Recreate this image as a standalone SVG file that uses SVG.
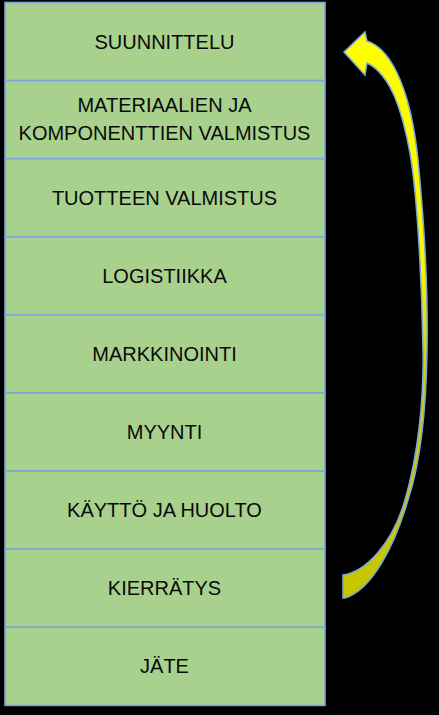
<svg xmlns="http://www.w3.org/2000/svg" width="439" height="715" viewBox="0 0 439 715">
  <style>
    .box { fill: #a9d18e; stroke: #7fa6d8; stroke-width: 1.6; }
    .lbl { font-family: "Liberation Sans", Arial, sans-serif; font-size: 20px; fill: #0a0a0a; text-anchor: middle; }
  </style>
  <defs>
    <linearGradient id="arrowFill" gradientUnits="userSpaceOnUse" x1="0" y1="30" x2="0" y2="600">
      <stop offset="0" stop-color="#ffff00"/>
      <stop offset="0.42" stop-color="#f6f600"/>
      <stop offset="0.6" stop-color="#d2d200"/>
      <stop offset="1" stop-color="#c6c600"/>
    </linearGradient>
  </defs>
  <rect x="0" y="0" width="439" height="715" fill="#000"/>

  <g id="n1"><rect class="box" x="5" y="2.5" width="320" height="78.1"/><text class="lbl" x="164.5" y="48.6">SUUNNITTELU</text></g>
  <g id="n2"><rect class="box" x="5" y="80.6" width="320" height="78.1"/><text class="lbl" x="164.5" y="111.5">MATERIAALIEN JA</text><text class="lbl" x="164.5" y="139.7">KOMPONENTTIEN VALMISTUS</text></g>
  <g id="n3"><rect class="box" x="5" y="158.7" width="320" height="78.1"/><text class="lbl" x="164.5" y="204.8">TUOTTEEN VALMISTUS</text></g>
  <g id="n4"><rect class="box" x="5" y="236.8" width="320" height="78.1"/><text class="lbl" x="164.5" y="282.9">LOGISTIIKKA</text></g>
  <g id="n5"><rect class="box" x="5" y="314.9" width="320" height="78.1"/><text class="lbl" x="164.5" y="361">MARKKINOINTI</text></g>
  <g id="n6"><rect class="box" x="5" y="393" width="320" height="78.1"/><text class="lbl" x="164.5" y="439.1">MYYNTI</text></g>
  <g id="n7"><rect class="box" x="5" y="471.1" width="320" height="78.1"/><text class="lbl" x="164.5" y="517.2">KÄYTTÖ JA HUOLTO</text></g>
  <g id="n8"><rect class="box" x="5" y="549.2" width="320" height="78.1"/><text class="lbl" x="164.5" y="595.3">KIERRÄTYS</text></g>
  <g id="n9"><rect class="box" x="5" y="627.3" width="320" height="78.1"/><text class="lbl" x="164.5" y="673.4">JÄTE</text></g>

  <g id="connectors">
    <path d="M343,575 C365,572 392,545 405,500 C418,455 424,400 423,350 C422,290 418,200 410,153 C403,115 392,75 367,63 L365,75 L344,52 L365,32 L367,41 C395,50 412,100 418,160 C424,220 428,290 427,350 C426,420 418,470 408,500 C395,545 372,590 345,598 L343,598 Z" fill="url(#arrowFill)" stroke="#7fa6d8" stroke-width="1.5" stroke-linejoin="miter"/>
  </g>
</svg>
